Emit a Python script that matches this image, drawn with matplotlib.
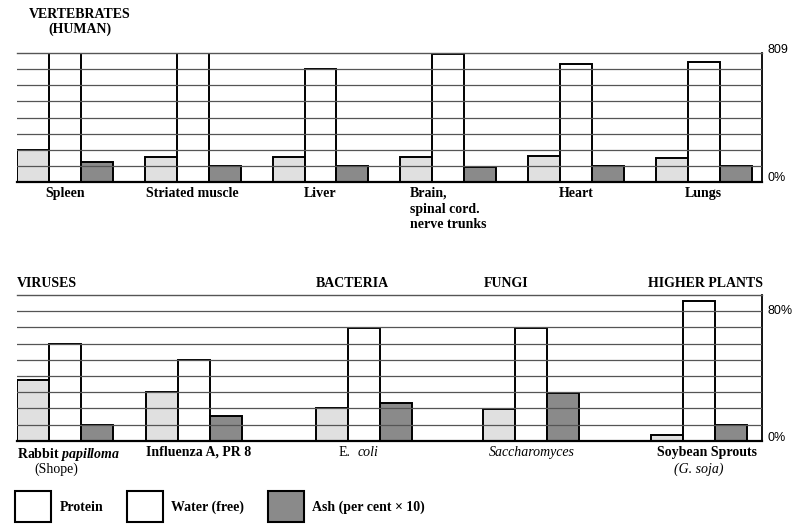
import numpy as np
import matplotlib
matplotlib.use("Agg")
import matplotlib.pyplot as plt
from matplotlib.patches import Patch
from matplotlib.transforms import blended_transform_factory

plt.rcParams['font.family'] = ['Liberation Serif', 'DejaVu Serif']
plt.rcParams['mathtext.fontset'] = 'custom'
plt.rcParams['mathtext.rm'] = 'Liberation Serif'
plt.rcParams['mathtext.it'] = 'Liberation Serif:italic:bold'
plt.rcParams['mathtext.bf'] = 'Liberation Serif:bold'

# data: per cent of fresh weight (ash shown x 10)
vert_names = ['Spleen', 'Striated muscle', 'Liver', 'Brain,\nspinal cord.\nnerve trunks', 'Heart', 'Lungs']
vert_protein = [20, 15.5, 15.5, 15.3, 16, 15]
vert_water = [80, 80, 70, 79.5, 73, 74.5]
vert_ash = [12.5, 10, 9.7, 9.5, 9.7, 9.7]

other_names = ['Rabbit $\\mathit{papilloma}$', 'Influenza A, PR 8', 'E. coli', 'Saccharomyces', 'Soybean Sprouts']
other_sub = ['(Shope)', '', '', '', '(G. soja)']
other_protein = [37.4, 30, 20, 19.5, 3.3]
other_water = [60, 50, 69.5, 69.5, 86]
other_ash = [10, 15, 23.5, 29.5, 9.7]
other_groups = ['VIRUSES', 'BACTERIA', 'FUNGI', 'HIGHER PLANTS']

# layout
W, H = 799, 529
vert_x = np.arange(6) * 4.0
other_x = np.array([0, 4.04, 9.36, 14.6, 19.84])
xmax = 23.32
c_prot, c_water, c_ash = '#e0e0e0', 'white', '#8a8a8a'
grid_c = '#555555'

fig = plt.figure(figsize=(W / 100, H / 100), dpi=100)


def make_axes(top, bottom, ymax, xs, prot, water, ash):
    ax = fig.add_axes([17 / W, 1 - bottom / H, 745 / W, (bottom - top) / H])
    kw = dict(width=1.0, align='edge', edgecolor='black', linewidth=1.4, zorder=2)
    ax.bar(xs, prot, color=c_prot, **kw)
    ax.bar(xs + 1, water, color=c_water, **kw)
    ax.bar(xs + 2, ash, color=c_ash, **kw)
    for v in range(10, ymax, 10):
        ax.axhline(v, color=grid_c, linewidth=0.9, zorder=3)
    ax.set_xlim(0, xmax)
    ax.set_ylim(0, ymax)
    ax.spines['left'].set_visible(False)
    ax.spines['top'].set_color(grid_c)
    ax.spines['top'].set_linewidth(1.0)
    ax.spines['bottom'].set_linewidth(1.6)
    ax.spines['right'].set_linewidth(1.3)
    ax.set_xticks([])
    ax.set_yticks([])
    ax.patch.set_alpha(0)
    return ax


ax1 = make_axes(53, 182, 80, vert_x, vert_protein, vert_water, vert_ash)
ax2 = make_axes(295, 440.7, 90, other_x, other_protein, other_water, other_ash)

sans = ['Liberation Sans', 'DejaVu Sans']
ax1.text(1.008, 1.02, '809', transform=ax1.transAxes, family=sans, fontsize=9, va='center', ha='left')
ax1.text(1.008, 0.03, '0%', transform=ax1.transAxes, family=sans, fontsize=9, va='center', ha='left')
ax2.text(1.008, 80, '80%', transform=blended_transform_factory(ax2.transAxes, ax2.transData),
         family=sans, fontsize=9, va='center', ha='left')
ax2.text(1.008, 1.5, '0%', transform=blended_transform_factory(ax2.transAxes, ax2.transData),
         family=sans, fontsize=9, va='center', ha='left')

# category labels under the groups
t1 = blended_transform_factory(ax1.transData, fig.transFigure)
for x, name in zip(vert_x, vert_names):
    ma = 'left' if '\n' in name else 'center'
    ax1.text(x + 1.5, 1 - 187 / H, name, transform=t1, ha='center', va='top',
             fontsize=10, fontweight='bold', multialignment=ma, linespacing=1.25)

t2 = blended_transform_factory(ax2.transData, fig.transFigure)
label_x = [1.6, 5.7, 10.7, 16.1, 21.6]
sub_x = [1.22, 0, 0, 0, 21.35]
styles = [('normal', 'bold'), ('normal', 'bold'), ('normal', 'normal'), ('italic', 'normal'), ('normal', 'bold')]
for i, name in enumerate(other_names):
    st, wt = styles[i]
    if name == 'E. coli':
        ax2.text(label_x[i] - 0.45, 1 - 446 / H, 'E.', transform=t2, ha='center', va='top', fontsize=10)
        ax2.text(label_x[i] + 0.3, 1 - 446 / H, 'coli', transform=t2, ha='center', va='top',
                 fontsize=10, style='italic')
    else:
        ax2.text(label_x[i], 1 - 446 / H, name, transform=t2, ha='center', va='top',
                 fontsize=10, fontweight=wt, style=st)
    if other_sub[i]:
        ax2.text(sub_x[i], 1 - 463 / H, other_sub[i], transform=t2, ha='center', va='top',
                 fontsize=10, style='italic' if 'soja' in other_sub[i] else 'normal')

# group headers
for x, g in zip([other_x[0], other_x[2], other_x[3], other_x[4] - 0.1], other_groups):
    ax2.text(x, 1 - 290 / H, g, transform=t2, ha='left', va='bottom', fontsize=10, fontweight='bold')

fig.text(80 / W, 1 - 8 / H, 'VERTEBRATES\n(HUMAN)', ha='center', va='top', fontsize=10,
         fontweight='bold', multialignment='center', linespacing=1.1)

handles = [Patch(facecolor='white', edgecolor='black', linewidth=1.5),
           Patch(facecolor='white', edgecolor='black', linewidth=1.5),
           Patch(facecolor=c_ash, edgecolor='black', linewidth=1.5)]
labels = ['Protein', 'Water (free)', 'Ash (per cent × 10)']
leg = fig.legend(handles, labels, loc='lower left', bbox_to_anchor=(15 / W, 7 / H), ncol=3,
                 frameon=False, borderpad=0, borderaxespad=0, handlelength=2.6, handleheight=3.05,
                 handletextpad=0.6, columnspacing=1.7, prop={'size': 10, 'weight': 'bold'})

fig.savefig('out.png', dpi=100)
